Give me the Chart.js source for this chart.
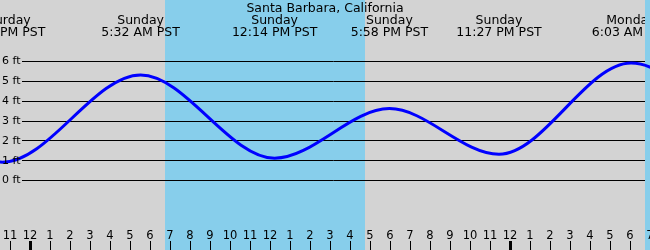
<!DOCTYPE html>
<html>
<head>
<meta charset="utf-8">
<script src="https://cdn.jsdelivr.net/npm/chart.js@4"></script>
<style>
  html, body { margin: 0; padding: 0; background: #d3d3d3; }
  canvas { display: block; }
</style>
</head>
<body>
<canvas id="tideChart" width="650" height="250"></canvas>
<script>
// tide extremes, hours from Sunday midnight (PST)
const tideHours = [-7.2, -1.37, 5.53, 12.23, 17.97, 23.45, 30.05, 36.7];
const tideFeet = [3.5, 0.9, 5.3, 1.1, 3.6, 1.3, 5.9, 0.6];
const tideDays = [null, "Saturday", "Sunday", "Sunday", "Sunday", "Sunday", "Monday", null];
const tideTimes = [null, "10:38 PM PST", "5:32 AM PST", "12:14 PM PST", "5:58 PM PST", "11:27 PM PST", "6:03 AM PST", null];

// daylight
const sunUp = [6.75, 30.75];
const sunDown = [16.75, 40];

// axis labels
const feetTicks = [0, 1, 2, 3, 4, 5, 6];
const hourLabels = ["11", "12", "1", "2", "3", "4", "5", "6", "7", "8", "9", "10", "11",
    "12", "1", "2", "3", "4", "5", "6", "7", "8", "9", "10", "11",
    "12", "1", "2", "3", "4", "5", "6", "7"];
const firstHour = -1;

const title = "Santa Barbara, California";
const FONT = "DejaVu Sans";

const tidePlugin = {
    id: "tideDecor",
    beforeDatasetsDraw(chart) {
        const { ctx, chartArea: a, scales: { x, y } } = chart;
        ctx.save();
        ctx.fillStyle = "#d3d3d3";
        ctx.fillRect(0, 0, chart.width, chart.height);

        ctx.fillStyle = "#87ceeb";
        sunUp.forEach((h, i) => {
            const x0 = x.getPixelForValue(h);
            const x1 = x.getPixelForValue(sunDown[i]);
            ctx.fillRect(x0, 0, x1 - x0, chart.height);
        });

        ctx.strokeStyle = "#000";
        ctx.lineWidth = 1;
        feetTicks.forEach(f => {
            const py = Math.round(y.getPixelForValue(f)) + 0.5;
            ctx.beginPath();
            ctx.moveTo(22, py);
            ctx.lineTo(645, py);
            ctx.stroke();
        });
        ctx.restore();
    },
    afterDatasetsDraw(chart) {
        const { ctx, scales: { x, y } } = chart;
        ctx.save();
        ctx.fillStyle = "#000";

        // feet labels
        ctx.font = "11px '" + FONT + "'";
        ctx.textAlign = "left";
        ctx.textBaseline = "middle";
        feetTicks.forEach(f => {
            ctx.fillText(f + " ft", 2, y.getPixelForValue(f) + 0.5);
        });

        // hour ticks and labels
        ctx.font = "11.5px '" + FONT + "'";
        ctx.textAlign = "center";
        ctx.textBaseline = "alphabetic";
        hourLabels.forEach((lab, i) => {
            const h = firstHour + i;
            const px = Math.round(x.getPixelForValue(h));
            ctx.fillText(lab, px, 239);
            if (h % 24 === 0) {
                ctx.fillRect(px - 1, 241, 3, 9);
            } else {
                ctx.fillRect(px, 241, 1, 9);
            }
        });

        // title
        ctx.font = "12.5px '" + FONT + "'";
        ctx.fillText(title, 325, 12);

        // extremes
        ctx.beginPath();
        ctx.rect(0, 0, 645, 60);
        ctx.clip();
        tideHours.forEach((h, i) => {
            if (!tideDays[i]) return;
            const px = x.getPixelForValue(h);
            ctx.fillText(tideDays[i], px, 24);
            ctx.fillText(tideTimes[i], px, 36);
        });
        ctx.restore();
    }
};

new Chart(document.getElementById("tideChart"), {
    type: "line",
    data: {
        datasets: [{
            data: tideHours.map((h, i) => ({ x: h, y: tideFeet[i] })),
            borderColor: "#0000ff",
            borderWidth: 3,
            pointRadius: 0,
            fill: false,
            cubicInterpolationMode: "monotone"
        }]
    },
    options: {
        responsive: false,
        devicePixelRatio: 1,
        animation: false,
        layout: { padding: 0 },
        scales: {
            x: { type: "linear", min: -1.5, max: 31, display: false },
            y: { min: -3.529, max: 9.076, display: false }
        },
        plugins: {
            legend: { display: false },
            tooltip: { enabled: false }
        }
    },
    plugins: [tidePlugin]
});
</script>
</body>
</html>
